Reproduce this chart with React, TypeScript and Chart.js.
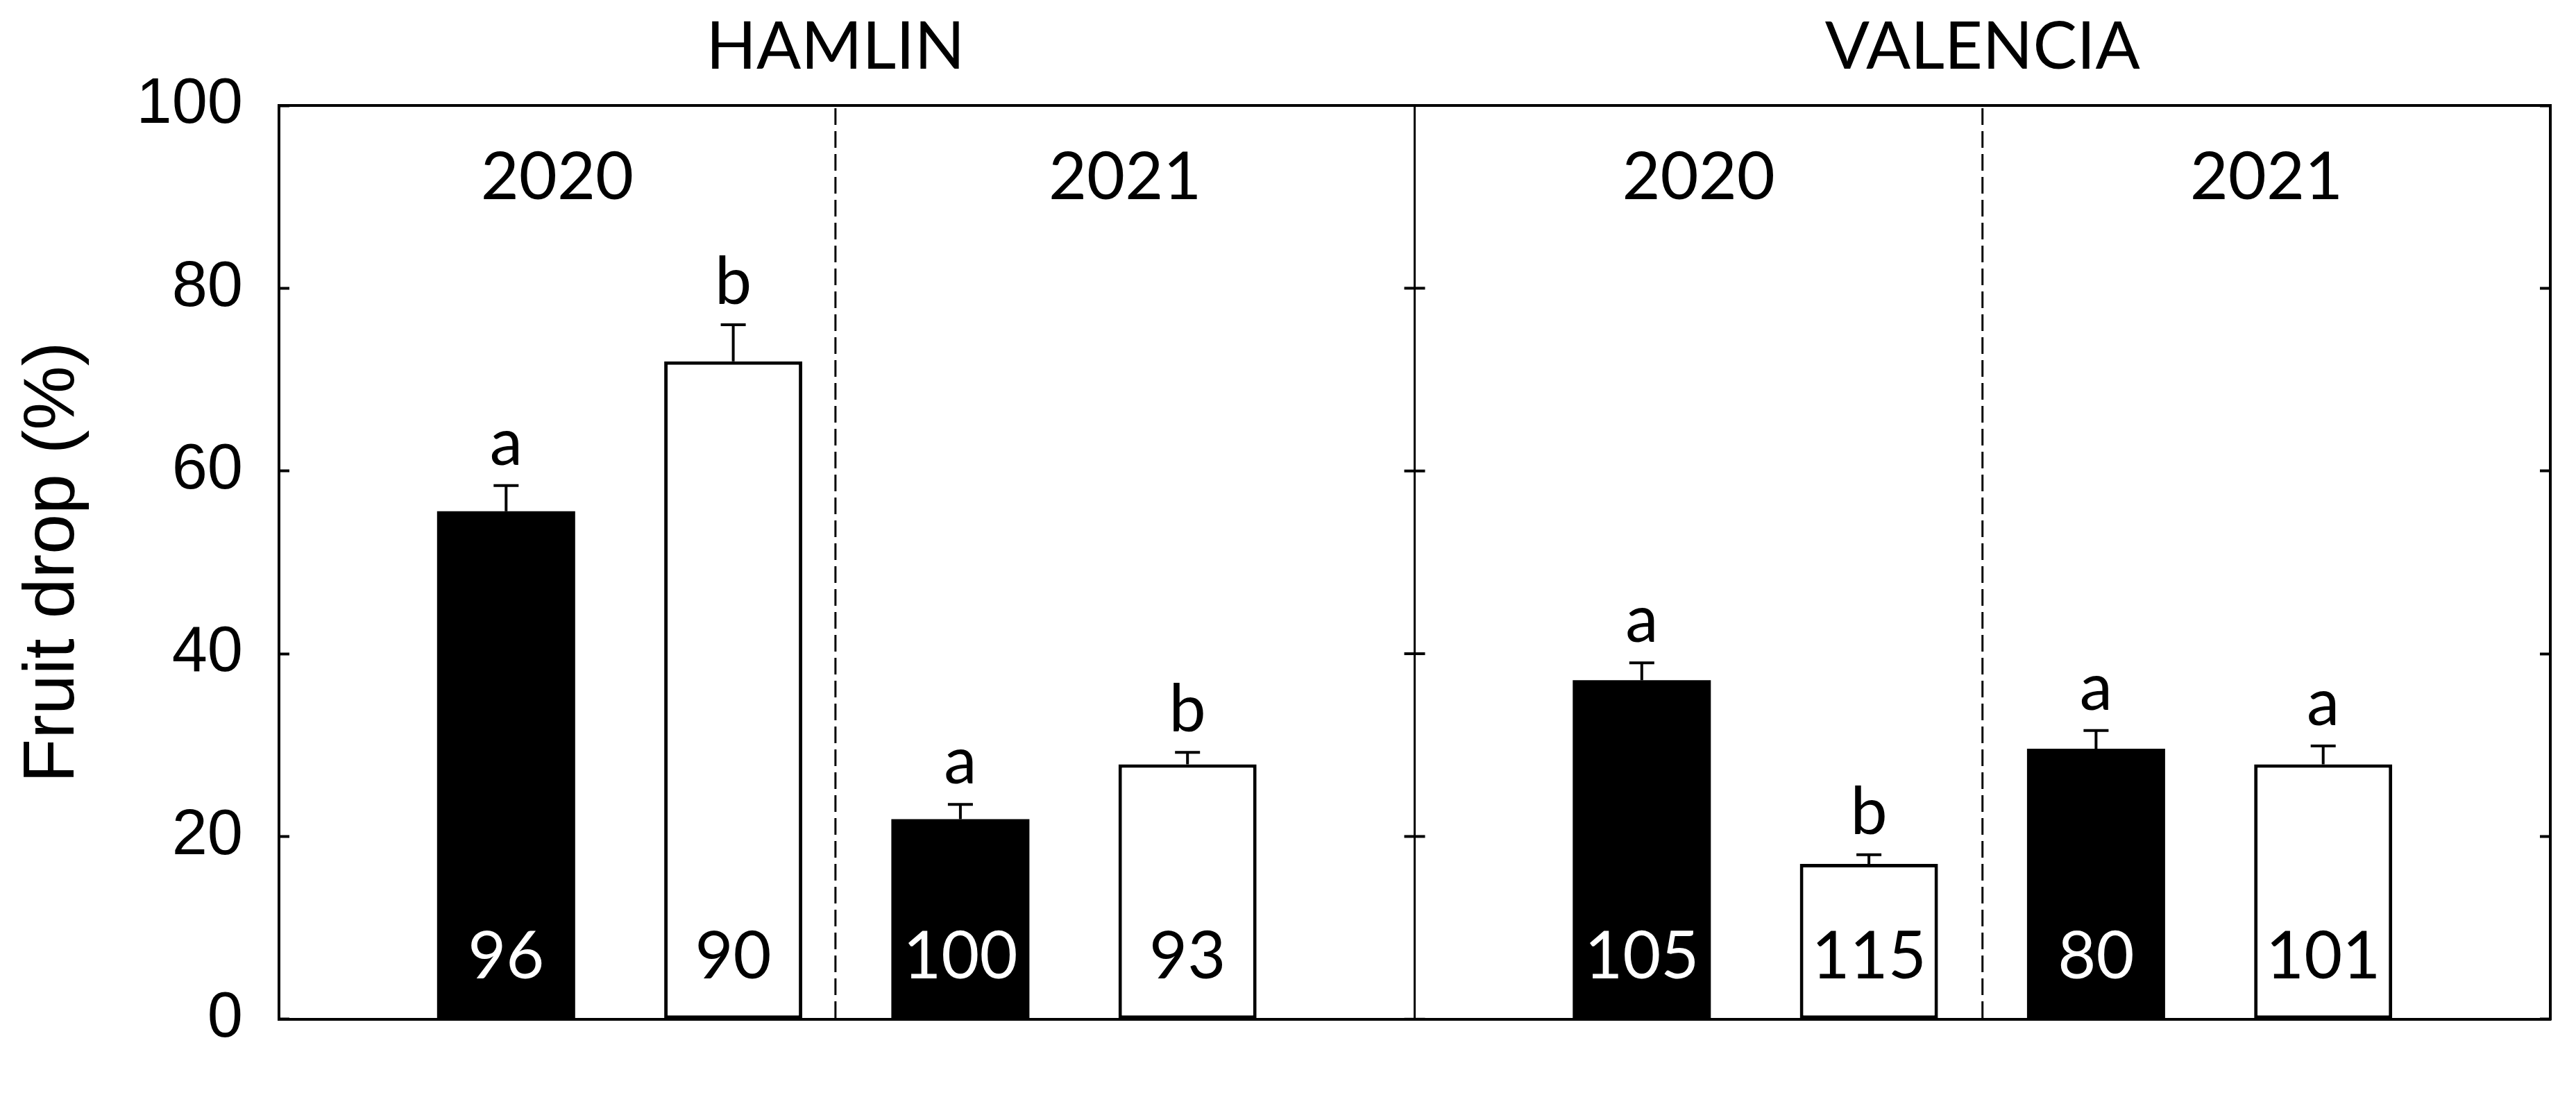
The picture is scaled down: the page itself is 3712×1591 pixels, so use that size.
import React, { useEffect, useRef } from 'react';
import { Chart, registerables } from 'chart.js';

Chart.register(...registerables);

// ---- data ----
const cultivars = ['HAMLIN', 'VALENCIA'];
const years = ['2020', '2021'];
// order of groups: HAMLIN 2020, HAMLIN 2021, VALENCIA 2020, VALENCIA 2021
const blackMeans = [55.6, 21.9, 37.1, 29.6];
const blackSE = [2.8, 1.6, 1.9, 2.0];
const blackLetters = ['a', 'a', 'a', 'a'];
const blackN = ['96', '100', '105', '80'];
const whiteMeans = [72.0, 27.9, 17.0, 27.9];
const whiteSE = [4.0, 1.3, 1.0, 2.0];
const whiteLetters = ['b', 'b', 'b', 'a'];
const whiteN = ['90', '93', '115', '101'];
const yTicks = [0, 20, 40, 60, 80, 100];
const yTitle = 'Fruit drop (%)';
// dashed year separators, in x-axis slot units
const yearSplits = [2.45, 7.5];

// ---- build category slots: spacer, 4 bars, spacer, 4 bars, spacer ----
const labels: string[] = [''];
const blackData: (number | null)[] = [null];
const whiteData: (number | null)[] = [null];
const blackIdx: number[] = [];
const whiteIdx: number[] = [];
cultivars.forEach((c, ci) => {
  years.forEach((yr, yi) => {
    const g = ci * 2 + yi;
    labels.push(`${c} ${yr} A`);
    blackIdx.push(labels.length - 1);
    blackData.push(blackMeans[g]);
    whiteData.push(null);
    labels.push(`${c} ${yr} B`);
    whiteIdx.push(labels.length - 1);
    blackData.push(null);
    whiteData.push(whiteMeans[g]);
  });
  labels.push('');
  blackData.push(null);
  whiteData.push(null);
});

const calibriLike = "Lato, 'Open Sans', sans-serif";
const arialLike = "'Liberation Sans', Arial, sans-serif";

const annotPlugin = {
  id: 'annot',
  afterDatasetsDraw(chart: any) {
    const { ctx, chartArea, scales } = chart;
    const x = scales.x;
    const y = scales.y;
    ctx.save();
    ctx.strokeStyle = '#000';
    ctx.fillStyle = '#000';

    // cultivar divider with ticks on both sides
    const dx = x.getPixelForValue(5);
    ctx.lineWidth = 3;
    ctx.beginPath();
    ctx.moveTo(dx, chartArea.top);
    ctx.lineTo(dx, chartArea.bottom);
    ctx.stroke();
    ctx.lineWidth = 4;
    yTicks.forEach((t) => {
      const py = y.getPixelForValue(t);
      ctx.beginPath();
      ctx.moveTo(dx - 15, py);
      ctx.lineTo(dx + 15, py);
      ctx.stroke();
    });

    // dashed year separators
    ctx.lineWidth = 3;
    ctx.setLineDash([24, 9]);
    yearSplits.forEach((v) => {
      const px = x.getPixelForValue(v);
      ctx.beginPath();
      ctx.moveTo(px, chartArea.top + 4);
      ctx.lineTo(px, chartArea.bottom);
      ctx.stroke();
    });
    ctx.setLineDash([]);

    // cultivar titles and year labels
    ctx.font = `95px ${calibriLike}`;
    ctx.textAlign = 'center';
    ctx.textBaseline = 'alphabetic';
    cultivars.forEach((c, ci) => {
      const start = ci * 5;
      const split = yearSplits[ci];
      const sx = x.getPixelForValue(split);
      ctx.fillStyle = '#000';
      ctx.fillText(c, sx, chartArea.top - 53);
      const bounds = [start, split, start + 5];
      years.forEach((yr, yi) => {
        const cx = (x.getPixelForValue(bounds[yi]) + x.getPixelForValue(bounds[yi + 1])) / 2;
        ctx.fillText(yr, cx, chartArea.top + 135);
      });
    });

    // error bars, letters, n labels
    const series = [
      { meta: chart.getDatasetMeta(0), idx: blackIdx, means: blackMeans, se: blackSE, letters: blackLetters, n: blackN, nColor: '#fff' },
      { meta: chart.getDatasetMeta(1), idx: whiteIdx, means: whiteMeans, se: whiteSE, letters: whiteLetters, n: whiteN, nColor: '#000' },
    ];
    series.forEach((s) => {
      s.idx.forEach((di, g) => {
        const el = s.meta.data[di];
        if (!el) return;
        const bx = el.x;
        const topY = y.getPixelForValue(s.means[g]);
        const errY = y.getPixelForValue(s.means[g] + s.se[g]);
        ctx.strokeStyle = '#000';
        ctx.lineWidth = 4;
        ctx.beginPath();
        ctx.moveTo(bx, topY);
        ctx.lineTo(bx, errY);
        ctx.moveTo(bx - 18, errY);
        ctx.lineTo(bx + 18, errY);
        ctx.stroke();
        ctx.fillStyle = '#000';
        ctx.fillText(s.letters[g], bx, errY - 30);
        ctx.fillStyle = s.nColor;
        ctx.fillText(s.n[g], bx, chartArea.bottom - 59);
      });
    });
    ctx.restore();
  },
};

export default function App() {
  const ref = useRef<HTMLCanvasElement | null>(null);
  useEffect(() => {
    if (!ref.current) return;
    const chart = new Chart(ref.current, {
      type: 'bar',
      data: {
        labels,
        datasets: [
          {
            label: 'A',
            data: blackData,
            backgroundColor: '#000',
            borderColor: '#000',
            borderWidth: 0,
            grouped: false,
            categoryPercentage: 1,
            barPercentage: 0.608,
          },
          {
            label: 'B',
            data: whiteData,
            backgroundColor: '#fff',
            borderColor: '#000',
            borderWidth: 5,
            borderSkipped: false,
            grouped: false,
            categoryPercentage: 1,
            barPercentage: 0.608,
          },
        ],
      },
      options: {
        animation: false,
        responsive: false,
        devicePixelRatio: 1,
        layout: { padding: { left: 0, right: 37, top: 152, bottom: 72 } },
        plugins: { legend: { display: false }, tooltip: { enabled: false }, title: { display: false } },
        scales: {
          x: {
            type: 'category',
            position: 'bottom',
            offset: false,
            ticks: { display: false },
            grid: { display: true, drawOnChartArea: false, drawTicks: false, color: 'rgba(0,0,0,0)' },
            border: { display: true, color: '#000', width: 4 },
            afterFit: (s: any) => { s.height = 0; },
          },
          xTop: {
            type: 'category',
            position: 'top',
            offset: false,
            ticks: { display: false },
            grid: { display: true, drawOnChartArea: false, drawTicks: false, color: 'rgba(0,0,0,0)' },
            border: { display: true, color: '#000', width: 4 },
            afterFit: (s: any) => { s.height = 0; },
          },
          y: {
            type: 'linear',
            position: 'left',
            min: 0,
            max: 100,
            afterBuildTicks: (s: any) => { s.ticks = yTicks.map((v) => ({ value: v })); },
            ticks: { color: '#000', font: { family: arialLike, size: 92 }, padding: 67 },
            grid: { display: true, drawOnChartArea: false, drawTicks: true, tickLength: -15, tickWidth: 4, tickColor: '#000', color: 'rgba(0,0,0,0)' },
            border: { display: true, color: '#000', width: 4 },
            title: { display: true, text: yTitle, color: '#000', font: { family: arialLike, size: 104 }, padding: { top: 15, bottom: 0 } },
            afterFit: (s: any) => { s.width = 402; },
          },
          yRight: {
            type: 'linear',
            position: 'right',
            min: 0,
            max: 100,
            afterBuildTicks: (s: any) => { s.ticks = yTicks.map((v) => ({ value: v })); },
            ticks: { display: false },
            grid: { display: true, drawOnChartArea: false, drawTicks: true, tickLength: -15, tickWidth: 4, tickColor: '#000', color: 'rgba(0,0,0,0)' },
            border: { display: true, color: '#000', width: 4 },
            afterFit: (s: any) => { s.width = 0; },
          },
        },
      },
      plugins: [annotPlugin],
    } as any);
    return () => chart.destroy();
  }, []);
  return (
    <div style={{ position: 'absolute', left: 0, top: 0, width: 3712, height: 1591, background: '#fff' }}>
      <canvas ref={ref} width={3712} height={1591} style={{ display: 'block', width: 3712, height: 1591 }} />
    </div>
  );
}
